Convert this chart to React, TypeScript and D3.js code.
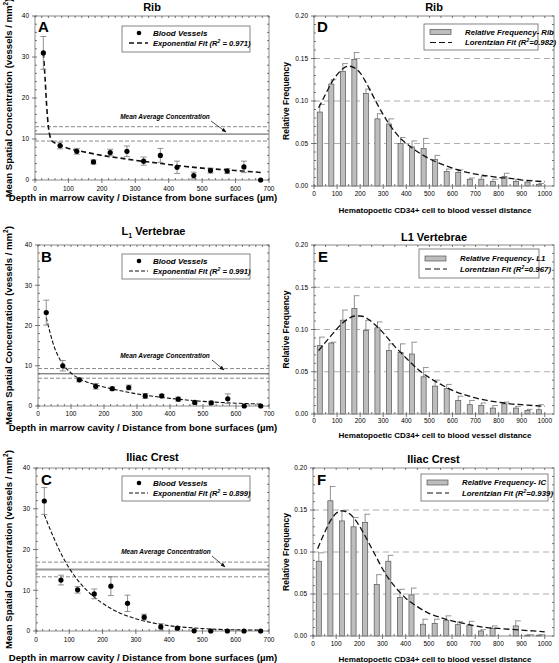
import React from 'react';
import * as d3 from 'd3';

// ---------- DATA ----------
const depthBins = [25, 75, 125, 175, 225, 275, 325, 375, 425, 475, 525, 575, 625, 675];
const depthTicks = [0, 100, 200, 300, 400, 500, 600, 700];
const concTicks = [0, 10, 20, 30, 40];

const ribVessels = [31, 8.4, 7.0, 4.4, 6.7, 7.0, 4.6, 6.0, 3.1, 1.1, 2.3, 2.2, 3.2, 0];
const ribVesselsErr = [4, 0.8, 0.7, 0.5, 0.8, 1.3, 1.0, 1.7, 1.5, 0.8, 0.6, 0.6, 1.4, 0];
const ribFitX = [25, 30, 35, 40, 45, 50, 60, 75, 100, 150, 200, 250, 300, 350, 400, 450, 500, 550, 600, 650, 680];
const ribFitY = [31, 25, 18, 13, 10.6, 9.6, 9.0, 8.4, 7.7, 6.8, 6.0, 5.4, 4.8, 4.3, 3.8, 3.3, 2.9, 2.6, 2.3, 2.0, 1.8];
const ribMeanLines = [9.5, 11.2, 13.0];

const l1Vessels = [23.2, 10.0, 6.5, 4.9, 4.3, 4.6, 2.5, 2.5, 1.7, 0.9, 0.8, 1.8, 0, 0];
const l1VesselsErr = [3.1, 1.3, 0.5, 0.7, 0.4, 0.6, 0.6, 0.4, 0.5, 0.4, 0.4, 1.2, 0, 0];
const l1FitX = [25, 50, 75, 100, 125, 150, 200, 250, 300, 350, 400, 450, 500, 550, 600, 650, 680];
const l1FitY = [22, 14.5, 10.5, 8.2, 6.8, 5.9, 4.7, 3.8, 3.0, 2.4, 1.9, 1.5, 1.15, 0.9, 0.7, 0.55, 0.45];
const l1MeanLines = [6.9, 8.0, 9.3];

const icVessels = [31.9, 12.5, 10.1, 9.1, 11.0, 6.8, 3.4, 1.0, 0.7, 0.05, 0, 0, 0, 0];
const icVesselsErr = [3.3, 1.2, 0.8, 1.2, 2.3, 2.0, 0.7, 0.8, 0.3, 0, 0, 0, 0, 0];
const icFitX = [25, 50, 75, 100, 125, 150, 175, 200, 250, 300, 350, 400, 450, 500, 550, 600, 650, 680];
const icFitY = [28.5, 23.5, 19, 15.4, 12.5, 10.2, 8.3, 6.8, 4.5, 3.0, 2.0, 1.3, 0.9, 0.6, 0.4, 0.3, 0.25, 0.2];
const icMeanLines = [13.3, 15.1, 16.9];

const distBins = [25, 75, 125, 175, 225, 275, 325, 375, 425, 475, 525, 575, 625, 675, 725, 775, 825, 875, 925, 975];
const distTicks = [0, 100, 200, 300, 400, 500, 600, 700, 800, 900, 1000];
const freqTicks = [0, 0.05, 0.1, 0.15, 0.2];
const freqGrid = [0.05, 0.1, 0.15];

const ribFreq = [0.087, 0.120, 0.135, 0.149, 0.109, 0.079, 0.073, 0.050, 0.046, 0.044, 0.031, 0.017, 0.016, 0.008, 0.008, 0.0055, 0.011, 0.0055, 0.0047, 0.002];
const ribFreqErr = [0.009, 0.005, 0.009, 0.008, 0.005, 0.006, 0.006, 0.007, 0.007, 0.012, 0.005, 0.003, 0.003, 0.0014, 0.003, 0.0025, 0.004, 0.0025, 0.002, 0.001];
const l1Freq = [0.081, 0.084, 0.111, 0.125, 0.099, 0.102, 0.075, 0.073, 0.071, 0.044, 0.033, 0.030, 0.016, 0.011, 0.010, 0.007, 0.012, 0.007, 0.004, 0.005];
const l1FreqErr = [0.010, 0.001, 0.012, 0.015, 0.012, 0.007, 0.008, 0.010, 0.014, 0.011, 0.007, 0.005, 0.005, 0.005, 0.003, 0.003, 0.002, 0.002, 0.0015, 0.006];
const icFreq = [0.089, 0.161, 0.137, 0.130, 0.135, 0.0615, 0.089, 0.046, 0.049, 0.014, 0.015, 0.0187, 0.0135, 0.013, 0.006, 0.0087, 0, 0.012, 0.001, 0.001];
const icFreqErr = [0.010, 0.017, 0.012, 0.011, 0.010, 0.0115, 0.007, 0.0096, 0.008, 0.006, 0.005, 0.0053, 0.0035, 0.0045, 0.0015, 0.0033, 0, 0.006, 0.0005, 0.0005];

const lorentzX = [20, 50, 75, 100, 125, 150, 175, 200, 225, 250, 275, 300, 325, 350, 375, 400, 450, 500, 550, 600, 650, 700, 750, 800, 850, 900, 950, 1000];
const ribLorentz = [0.092, 0.108, 0.121, 0.131, 0.138, 0.141, 0.139, 0.133, 0.122, 0.109, 0.096, 0.084, 0.073, 0.064, 0.056, 0.050, 0.040, 0.032, 0.026, 0.021, 0.017, 0.014, 0.012, 0.010, 0.009, 0.007, 0.006, 0.005];
const l1Lorentz = [0.075, 0.085, 0.093, 0.101, 0.108, 0.113, 0.116, 0.116, 0.114, 0.109, 0.103, 0.096, 0.088, 0.080, 0.073, 0.066, 0.053, 0.043, 0.035, 0.028, 0.023, 0.019, 0.016, 0.014, 0.012, 0.011, 0.010, 0.009];
const icLorentz = [0.104, 0.123, 0.137, 0.146, 0.149, 0.147, 0.141, 0.131, 0.119, 0.106, 0.093, 0.080, 0.069, 0.060, 0.052, 0.045, 0.035, 0.027, 0.022, 0.018, 0.015, 0.012, 0.010, 0.009, 0.008, 0.007, 0.006, 0.005];

// ---------- STYLE ----------
const FONT = '"Liberation Sans", Arial, Helvetica, sans-serif';
const FRAME = '#8a8a8a';

type Box = { L: number; R: number; T: number; B: number };

function Frame({ box, xMinor, yMinor, xMajor, yMajor, x, y }: any) {
  const { L, R, T, B } = box;
  return (
    <g>
      <rect x={L} y={T} width={R - L} height={B - T} fill="none" stroke={FRAME} strokeWidth={1} />
      {xMinor.map((v: number, i: number) => (
        <g key={'xm' + i}>
          <line x1={x(v)} x2={x(v)} y1={T} y2={T + 2} stroke="#555" strokeWidth={0.8} />
          <line x1={x(v)} x2={x(v)} y1={B} y2={B - 2} stroke="#555" strokeWidth={0.8} />
        </g>
      ))}
      {yMinor.map((v: number, i: number) => (
        <g key={'ym' + i}>
          <line x1={L} x2={L + 2} y1={y(v)} y2={y(v)} stroke="#555" strokeWidth={0.8} />
          <line x1={R} x2={R - 2} y1={y(v)} y2={y(v)} stroke="#555" strokeWidth={0.8} />
        </g>
      ))}
      {xMajor.map((v: number, i: number) => (
        <line key={'xM' + i} x1={x(v)} x2={x(v)} y1={B} y2={B + 3} stroke="#555" strokeWidth={0.8} />
      ))}
      {yMajor.map((v: number, i: number) => (
        <line key={'yM' + i} x1={L - 3} x2={L} y1={y(v)} y2={y(v)} stroke="#555" strokeWidth={0.8} />
      ))}
    </g>
  );
}

type VesselProps = {
  box: Box; title: React.ReactNode; titleY: number; letter: string; letterPos: [number, number];
  vals: number[]; errs: number[]; fitX: number[]; fitY: number[]; means: number[]; r2: string;
  legend: { x0: number; y0: number; x1: number; y1: number };
  meanLabel: [number, number]; arrow: [number, number, number, number];
  tickY: number; xLabelY: number; dash: string; fitW: number; thickMean?: boolean;
};

function VesselPanel(p: VesselProps) {
  const { L, R, T, B } = p.box;
  const x = d3.scaleLinear().domain([0, 700]).range([L, R]);
  const y = d3.scaleLinear().domain([0, 40]).range([B, T]);
  const line = d3.line<number>().x((_, i) => x(p.fitX[i])).y(d => y(d)).curve(d3.curveMonotoneX);
  const lg = p.legend;
  const r1 = lg.y0 + 7, r2 = lg.y0 + 17;
  return (
    <g fontFamily={FONT}>
      <text x={(L + R) / 2} y={p.titleY} textAnchor="middle" fontWeight="bold" fontSize={11}>{p.title}</text>
      {p.means.map((m, i) => (
        <line key={'m' + i} x1={L} x2={R} y1={y(m)} y2={y(m)}
          stroke={i === 1 ? (p.thickMean ? '#999' : '#555') : '#8a8a8a'}
          strokeWidth={i === 1 ? (p.thickMean ? 2 : 1) : 1}
          strokeDasharray={i === 1 ? undefined : '4,2'} />
      ))}
      <text x={p.meanLabel[0]} y={p.meanLabel[1]} textAnchor="middle" fontSize={6.5} fontWeight="bold" fontStyle="italic">Mean Average Concentration</text>
      <line x1={p.arrow[0]} y1={p.arrow[1]} x2={p.arrow[2]} y2={p.arrow[3]} stroke="#222" strokeWidth={0.8} markerEnd="url(#arrowHead)" />
      <Frame box={p.box} x={x} y={y} xMinor={d3.range(0, 701, 20)} yMinor={d3.range(0, 41, 2)} xMajor={depthTicks} yMajor={concTicks} />
      {depthTicks.map(v => (
        <text key={'xt' + v} x={x(v)} y={p.tickY} textAnchor="middle" fontSize={6.5}>{v}</text>
      ))}
      {concTicks.map(v => (
        <text key={'yt' + v} x={L - 6} y={y(v) + 2.3} textAnchor="end" fontSize={6.5}>{v}</text>
      ))}
      <path d={line(p.fitY) || ''} fill="none" stroke="#111" strokeWidth={p.fitW} strokeDasharray={p.dash} />
      {depthBins.map((d, i) => {
        const e = p.errs[i];
        if (!e) return null;
        return (
          <g key={'e' + i} stroke="#777" strokeWidth={0.8}>
            <line x1={x(d)} x2={x(d)} y1={y(p.vals[i] - e)} y2={y(p.vals[i] + e)} />
            <line x1={x(d) - 3} x2={x(d) + 3} y1={y(p.vals[i] + e)} y2={y(p.vals[i] + e)} />
            <line x1={x(d) - 3} x2={x(d) + 3} y1={y(p.vals[i] - e)} y2={y(p.vals[i] - e)} />
          </g>
        );
      })}
      {depthBins.map((d, i) => (
        <circle key={'p' + i} cx={x(d)} cy={y(p.vals[i])} r={2.6} fill="#000" />
      ))}
      <text x={p.letterPos[0]} y={p.letterPos[1]} fontSize={15} fontWeight="bold">{p.letter}</text>
      <rect x={lg.x0} y={lg.y0} width={lg.x1 - lg.x0} height={lg.y1 - lg.y0} fill="#fff" stroke="#666" strokeWidth={0.8} />
      <circle cx={lg.x0 + 17} cy={r1} r={2.3} fill="#000" />
      <text x={lg.x0 + 31} y={r1 + 2.7} fontSize={8} fontWeight="bold" fontStyle="italic">Blood Vessels</text>
      <line x1={lg.x0 + 7} x2={lg.x0 + 26} y1={r2} y2={r2} stroke="#111" strokeWidth={p.fitW} strokeDasharray={p.dash} />
      <text x={lg.x0 + 31} y={r2 + 2.7} fontSize={7.6} fontWeight="bold" fontStyle="italic">
        Exponential Fit (R<tspan fontSize={5} dy={-3}>2</tspan><tspan dy={3}> = {p.r2})</tspan>
      </text>
      <text x={143} y={p.xLabelY} textAnchor="middle" fontSize={9.6} fontWeight="bold">
        Depth in marrow cavity / Distance from bone surfaces (µm)
      </text>
      <text transform={`translate(11.5,${(T + B) / 2}) rotate(-90)`} textAnchor="middle" fontSize={9.6} fontWeight="bold">
        Mean Spatial Concentration (vessels / mm<tspan fontSize={6.5} dy={-3.5}>2</tspan><tspan dy={3.5}>)</tspan>
      </text>
    </g>
  );
}

type FreqProps = {
  box: Box; title: string; titleY: number; letter: string; letterPos: [number, number];
  vals: number[]; errs: number[]; fit: number[]; r2: string; series: string;
  legend: { x0: number; y0: number; x1: number; y1: number };
  tickY: number; xLabelY: number;
};

function FreqPanel(p: FreqProps) {
  const { L, R, T, B } = p.box;
  const x = d3.scaleLinear().domain([0, 1040]).range([L, R]);
  const y = d3.scaleLinear().domain([0, 0.2]).range([B, T]);
  const line = d3.line<number>().x((_, i) => x(lorentzX[i])).y(d => y(d)).curve(d3.curveMonotoneX);
  const bw = x(22) - x(0);
  const lg = p.legend;
  const midY = (lg.y0 + lg.y1) / 2;
  const r1 = midY - 5, r2 = midY + 5.5;
  const fmt = d3.format('.2f');
  return (
    <g fontFamily={FONT}>
      <text x={(L + R) / 2} y={p.titleY} textAnchor="middle" fontWeight="bold" fontSize={11}>{p.title}</text>
      {freqGrid.map(g => (
        <line key={'g' + g} x1={L} x2={R} y1={y(g)} y2={y(g)} stroke="#9a9a9a" strokeWidth={0.8} strokeDasharray="6,4" />
      ))}
      {distBins.map((d, i) => (
        <g key={'b' + i}>
          {p.errs[i] > 0 && (
            <g stroke="#777" strokeWidth={0.8}>
              <line x1={x(d)} x2={x(d)} y1={y(p.vals[i])} y2={y(p.vals[i] + p.errs[i])} />
              <line x1={x(d) - 0.5} x2={x(d) + bw / 2 + 2.5} y1={y(p.vals[i] + p.errs[i])} y2={y(p.vals[i] + p.errs[i])} />
            </g>
          )}
          {p.vals[i] > 0 && (
            <rect x={x(d) - bw / 2} y={y(p.vals[i])} width={bw} height={B - y(p.vals[i])} fill="#bdbdbd" stroke="#555" strokeWidth={0.7} />
          )}
        </g>
      ))}
      <Frame box={p.box} x={x} y={y} xMinor={d3.range(0, 1041, 50)} yMinor={d3.range(0, 0.2001, 0.01)} xMajor={distTicks} yMajor={freqTicks} />
      {distTicks.map(v => (
        <text key={'xt' + v} x={x(v)} y={p.tickY} textAnchor="middle" fontSize={6.5}>{v}</text>
      ))}
      {freqTicks.map(v => (
        <text key={'yt' + v} x={L - 6} y={y(v) + 2.3} textAnchor="end" fontSize={6.5}>{fmt(v)}</text>
      ))}
      <path d={line(p.fit) || ''} fill="none" stroke="#111" strokeWidth={1.3} strokeDasharray="6,3" />
      <text x={p.letterPos[0]} y={p.letterPos[1]} fontSize={15} fontWeight="bold">{p.letter}</text>
      <rect x={lg.x0} y={lg.y0} width={lg.x1 - lg.x0} height={lg.y1 - lg.y0} fill="#fff" stroke="#666" strokeWidth={0.8} />
      <rect x={lg.x0 + 6} y={r1 - 2.5} width={21} height={5} fill="#bdbdbd" stroke="#555" strokeWidth={0.7} />
      <text x={lg.x0 + 41} y={r1 + 2.7} fontSize={7.8} fontWeight="bold" fontStyle="italic">Relative Frequency- {p.series}</text>
      <line x1={lg.x0 + 6} x2={lg.x0 + 28} y1={r2} y2={r2} stroke="#111" strokeWidth={1.2} strokeDasharray="6,3" />
      <text x={lg.x0 + 41} y={r2 + 2.7} fontSize={7.8} fontWeight="bold" fontStyle="italic">
        Lorentzian Fit (R<tspan fontSize={5} dy={-3}>2</tspan><tspan dy={3}>={p.r2})</tspan>
      </text>
      <text x={435} y={p.xLabelY} textAnchor="middle" fontSize={8.1} fontWeight="bold">
        Hematopoetic CD34+ cell to blood vessel distance
      </text>
      <text transform={`translate(288.5,${(T + B) / 2}) rotate(-90)`} textAnchor="middle" fontSize={8.5} fontWeight="bold">
        Relative Frequency
      </text>
    </g>
  );
}

export default function App() {
  return (
    <svg width={559} height={663} style={{ position: 'absolute', left: 0, top: 0, background: '#fff' }}>
      <defs>
        <marker id="arrowHead" viewBox="0 0 10 10" refX="9" refY="5" markerWidth="6" markerHeight="6" orient="auto">
          <path d="M0,1 L10,5 L0,9 z" fill="#111" />
        </marker>
      </defs>
      <VesselPanel
        box={{ L: 35, R: 269, T: 16, B: 180 }} title="Rib" titleY={11} letter="A" letterPos={[38, 32]}
        vals={ribVessels} errs={ribVesselsErr} fitX={ribFitX} fitY={ribFitY} means={ribMeanLines} r2="0.971"
        legend={{ x0: 122, y0: 26, x1: 250, y1: 52 }} meanLabel={[165, 119]} arrow={[211, 121, 226, 132]}
        tickY={190.5} xLabelY={201} dash="5,3" fitW={1.6}
      />
      <VesselPanel
        box={{ L: 38, R: 269, T: 245, B: 406 }}
        title={<>L<tspan fontSize={7} dy={3}>1</tspan><tspan dy={-3}> Vertebrae</tspan></>}
        titleY={235} letter="B" letterPos={[41, 262]}
        vals={l1Vessels} errs={l1VesselsErr} fitX={l1FitX} fitY={l1FitY} means={l1MeanLines} r2="0.991"
        legend={{ x0: 122, y0: 254, x1: 250, y1: 279 }} meanLabel={[165, 358]} arrow={[212, 360, 224, 370]}
        tickY={416} xLabelY={431} dash="4,2" fitW={1.1}
      />
      <VesselPanel
        box={{ L: 36, R: 269, T: 468, B: 631 }} title="Iliac Crest" titleY={461} letter="C" letterPos={[41, 485]}
        vals={icVessels} errs={icVesselsErr} fitX={icFitX} fitY={icFitY} means={icMeanLines} r2="0.899"
        legend={{ x0: 122, y0: 476, x1: 250, y1: 501 }} meanLabel={[166, 554]} arrow={[212, 556, 225, 567]}
        tickY={641.5} xLabelY={661} dash="4,2" fitW={1.1} thickMean
      />
      <FreqPanel
        box={{ L: 314, R: 554, T: 16, B: 186 }} title="Rib" titleY={11} letter="D" letterPos={[317, 32]}
        vals={ribFreq} errs={ribFreqErr} fit={ribLorentz} r2="0.982" series="Rib"
        legend={{ x0: 424, y0: 24, x1: 538, y1: 50 }} tickY={195.5} xLabelY={213}
      />
      <FreqPanel
        box={{ L: 314, R: 554, T: 245, B: 414 }} title="L1 Vertebrae" titleY={241} letter="E" letterPos={[318, 262]}
        vals={l1Freq} errs={l1FreqErr} fit={l1Lorentz} r2="0.967" series="L1"
        legend={{ x0: 419, y0: 249, x1: 539, y1: 278 }} tickY={423} xLabelY={438}
      />
      <FreqPanel
        box={{ L: 313, R: 554, T: 468, B: 636 }} title="Iliac Crest" titleY={463} letter="F" letterPos={[317, 485]}
        vals={icFreq} errs={icFreqErr} fit={icLorentz} r2="0.939" series="IC"
        legend={{ x0: 421, y0: 474, x1: 548, y1: 501 }} tickY={645.5} xLabelY={662}
      />
    </svg>
  );
}
